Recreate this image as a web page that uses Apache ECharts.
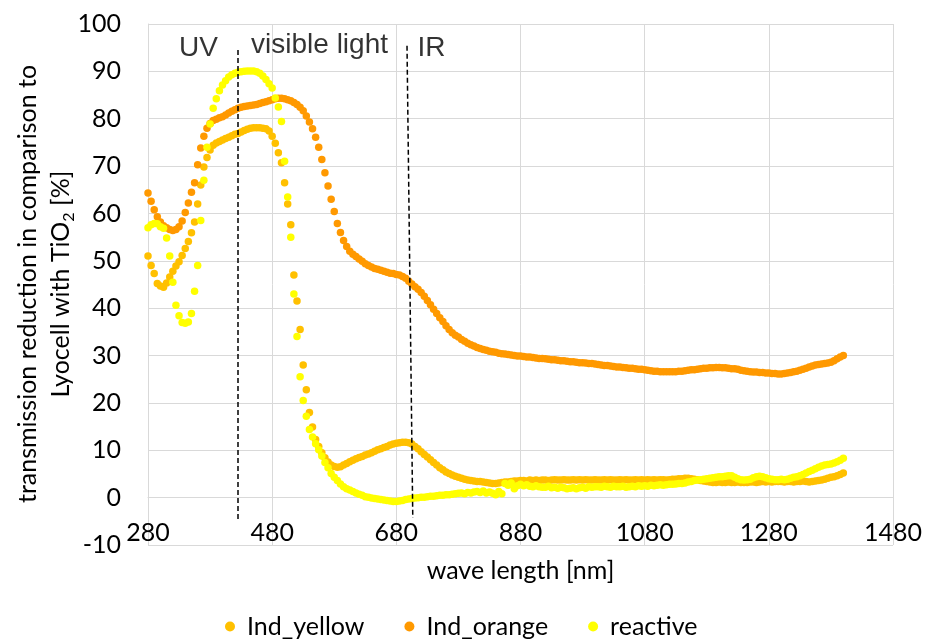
<!DOCTYPE html>
<html>
<head>
<meta charset="utf-8">
<script src="https://cdn.jsdelivr.net/npm/echarts@6/dist/echarts.min.js"></script>
<style>
  html, body { margin: 0; padding: 0; background: #fff; }
  #chart { width: 925px; height: 642px; }
</style>
</head>
<body>
<div id="chart"></div>
<script>
// ── data ──────────────────────────────────────────────
const waveLength = [
  280, 285, 290, 295, 300, 305, 310, 315, 320, 325, 330, 335, 340, 345, 350, 355, 360, 365, 370, 375,
  380, 385, 390, 395, 400, 405, 410, 415, 420, 425, 430, 435, 440, 445, 450, 455, 460, 465, 470, 475,
  480, 485, 490, 495, 500, 505, 510, 515, 520, 525, 530, 535, 540, 545, 550, 555, 560, 565, 570, 575,
  580, 585, 590, 595, 600, 605, 610, 615, 620, 625, 630, 635, 640, 645, 650, 655, 660, 665, 670, 675,
  680, 685, 690, 695, 700, 705, 710, 715, 720, 725, 730, 735, 740, 745, 750, 755, 760, 765, 770, 775,
  780, 785, 790, 795, 800, 805, 810, 815, 820, 825, 830, 835, 840, 845, 850, 855, 860, 865, 870, 875,
  880, 885, 890, 895, 900, 905, 910, 915, 920, 925, 930, 935, 940, 945, 950, 955, 960, 965, 970, 975,
  980, 985, 990, 995, 1000, 1005, 1010, 1015, 1020, 1025, 1030, 1035, 1040, 1045, 1050, 1055, 1060, 1065, 1070, 1075,
  1080, 1085, 1090, 1095, 1100, 1105, 1110, 1115, 1120, 1125, 1130, 1135, 1140, 1145, 1150, 1155, 1160, 1165, 1170, 1175,
  1180, 1185, 1190, 1195, 1200, 1205, 1210, 1215, 1220, 1225, 1230, 1235, 1240, 1245, 1250, 1255, 1260, 1265, 1270, 1275,
  1280, 1285, 1290, 1295, 1300, 1305, 1310, 1315, 1320, 1325, 1330, 1335, 1340, 1345, 1350, 1355, 1360, 1365, 1370, 1375,
  1380, 1385, 1390, 1395, 1400
];

const indYellow = [
  51.0, 49.0, 47.3, 45.2, 44.7, 44.4, 45.3, 46.6, 47.8, 48.9, 49.8, 51.1, 52.6, 54.1, 55.9, 58.2, 62.0, 66.0, 69.8, 71.8,
  73.4, 74.4, 74.9, 75.2, 75.5, 75.8, 76.1, 76.4, 76.7, 76.9, 77.2, 77.5, 77.8, 78.0, 78.1, 78.1, 78.1, 78.0, 77.9, 77.4,
  76.3, 74.8, 72.8, 70.7, 66.5, 62.0, 57.6, 47.0, 41.5, 35.5, 28.0, 22.8, 18.0, 14.9, 12.3, 10.8, 9.5, 8.4, 7.5, 6.9,
  6.6, 6.4, 6.5, 6.9, 7.2, 7.6, 7.9, 8.2, 8.5, 8.7, 9.0, 9.2, 9.5, 9.8, 10.1, 10.3, 10.6, 10.8, 11.1, 11.3,
  11.5, 11.6, 11.7, 11.7, 11.6, 11.3, 10.8, 10.3, 9.7, 9.1, 8.6, 8.0, 7.4, 6.9, 6.3, 5.9, 5.4, 5.1, 4.8, 4.5,
  4.3, 4.1, 3.9, 3.7, 3.6, 3.5, 3.4, 3.4, 3.3, 3.2, 3.1, 3.0, 3.0, 3.1, 3.2, 3.3, 3.3, 3.4, 3.5, 3.5,
  3.6, 3.6, 3.5, 3.7, 3.6, 3.7, 3.6, 3.7, 3.7, 3.6, 3.7, 3.8, 3.7, 3.7, 3.8, 3.7, 3.7, 3.8, 3.7, 3.8,
  3.7, 3.8, 3.7, 3.7, 3.8, 3.7, 3.7, 3.8, 3.7, 3.8, 3.7, 3.7, 3.8, 3.7, 3.8, 3.7, 3.7, 3.8, 3.7, 3.8,
  3.7, 3.8, 3.7, 3.8, 3.7, 3.8, 3.8, 3.7, 3.8, 3.9, 3.9, 4.0, 4.0, 4.1, 4.1, 4.0, 3.9, 3.8, 3.6, 3.5,
  3.4, 3.3, 3.2, 3.2, 3.3, 3.2, 3.2, 3.3, 3.2, 3.2, 3.3, 3.2, 3.2, 3.2, 3.3, 3.3, 3.2, 3.3, 3.4, 3.3,
  3.4, 3.3, 3.4, 3.4, 3.4, 3.3, 3.4, 3.4, 3.3, 3.4, 3.4, 3.5, 3.4, 3.3, 3.4, 3.5, 3.6, 3.7, 3.9, 4.1,
  4.3, 4.4, 4.6, 4.9, 5.2
];

const indOrange = [
  64.3, 62.6, 60.8, 59.3, 58.2, 57.4, 57.0, 56.6, 56.4, 56.6, 57.2, 58.4, 60.2, 62.2, 64.5, 66.5, 70.3, 73.8, 76.3, 78.0,
  79.0, 79.6, 79.9, 80.2, 80.4, 80.8, 81.2, 81.6, 81.9, 82.2, 82.4, 82.6, 82.7, 82.8, 82.9, 83.0, 83.2, 83.4, 83.6, 83.8,
  84.0, 84.2, 84.3, 84.3, 84.2, 84.0, 83.8, 83.4, 83.0, 82.4, 81.7, 80.6, 79.3, 77.9, 76.1, 74.0, 71.4, 68.6, 65.8, 63.0,
  60.4, 57.9, 56.0, 54.3, 53.0, 52.0, 51.4, 50.9, 50.4, 49.9, 49.4, 49.0, 48.7, 48.4, 48.2, 48.0, 47.8, 47.6, 47.4, 47.3,
  47.1, 47.0, 46.7, 46.3, 45.7, 45.1, 44.5, 44.0, 43.3, 42.5, 41.6, 40.7, 39.8, 38.9, 38.0, 37.2, 36.3, 35.5, 34.8, 34.3,
  33.9, 33.4, 33.0, 32.6, 32.3, 32.0, 31.7, 31.5, 31.3, 31.1, 30.9, 30.8, 30.7, 30.5, 30.4, 30.3, 30.2, 30.1, 30.0, 29.9,
  29.9, 29.8, 29.7, 29.7, 29.6, 29.5, 29.4, 29.4, 29.3, 29.2, 29.1, 29.1, 29.0, 28.9, 28.9, 28.8, 28.7, 28.7, 28.6, 28.5,
  28.5, 28.4, 28.3, 28.3, 28.2, 28.1, 28.0, 27.9, 27.9, 27.8, 27.7, 27.6, 27.6, 27.5, 27.4, 27.3, 27.3, 27.2, 27.1, 27.1,
  27.0, 26.9, 26.8, 26.7, 26.7, 26.6, 26.6, 26.6, 26.6, 26.6, 26.6, 26.7, 26.7, 26.8, 26.9, 27.0, 27.0, 27.1, 27.2, 27.3,
  27.3, 27.4, 27.4, 27.5, 27.5, 27.4, 27.4, 27.3, 27.2, 27.2, 27.1, 26.9, 26.8, 26.7, 26.6, 26.5, 26.5, 26.4, 26.4, 26.3,
  26.3, 26.2, 26.2, 26.1, 26.1, 26.2, 26.3, 26.4, 26.6, 26.7, 26.9, 27.1, 27.3, 27.6, 27.8, 28.0, 28.1, 28.2, 28.3, 28.4,
  28.6, 28.9, 29.3, 29.7, 30.0
];

const reactive = [
  57.0, 57.6, 57.9, 57.8, 57.2, 56.9, 54.8, 51.0, 45.5, 40.6, 38.4, 37.0, 36.8, 37.1, 38.9, 43.6, 49.0, 58.5, 67.0, 74.0,
  78.9, 82.2, 84.2, 85.9, 87.1, 88.0, 88.8, 89.3, 89.6, 89.8, 89.9, 90.0, 90.1, 90.1, 90.1, 89.9, 89.6, 89.0, 88.3, 87.4,
  86.5, 84.4, 82.5, 79.4, 71.0, 63.5, 55.0, 43.0, 34.0, 25.5, 20.5, 17.2, 14.4, 12.8, 11.4, 10.1, 8.8, 7.4, 6.3, 5.1,
  4.3, 3.6, 2.9, 2.3, 1.9, 1.6, 1.3, 1.0, 0.7, 0.5, 0.2, 0.1, -0.1, -0.2, -0.3, -0.4, -0.5, -0.6, -0.7, -0.8,
  -0.8, -0.7, -0.6, -0.4, -0.3, -0.2, -0.1, 0.0, 0.1, 0.1, 0.2, 0.3, 0.3, 0.4, 0.5, 0.5, 0.6, 0.6, 0.7, 0.8,
  0.9, 1.0, 0.8, 1.1, 1.0, 1.2, 1.3, 1.1, 1.4, 1.0, 1.2, 0.9, 0.6, 1.3, 0.8, 3.0, 2.6, 3.1, 1.9, 2.5,
  2.8, 2.5, 2.7, 2.4, 2.3, 2.5, 2.3, 2.2, 2.2, 2.4, 2.1, 2.2, 2.0, 2.2, 2.1, 1.9, 2.0, 2.1, 1.9, 2.1,
  2.2, 2.0, 2.3, 2.2, 2.3, 2.3, 2.2, 2.4, 2.3, 2.2, 2.4, 2.3, 2.3, 2.4, 2.2, 2.3, 2.4, 2.3, 2.5, 2.4,
  2.5, 2.4, 2.6, 2.5, 2.6, 2.7, 2.6, 2.7, 2.8, 2.8, 2.9, 3.0, 3.0, 3.1, 3.3, 3.4, 3.6, 3.7, 3.8, 3.9,
  4.0, 4.1, 4.2, 4.3, 4.4, 4.4, 4.5, 4.6, 4.6, 4.3, 4.0, 3.8, 3.7, 3.8, 3.9, 4.2, 4.4, 4.5, 4.4, 4.2,
  4.0, 3.9, 3.8, 3.8, 3.9, 3.8, 3.9, 4.1, 4.3, 4.4, 4.6, 4.9, 5.2, 5.5, 5.8, 6.1, 6.4, 6.7, 6.9, 7.0,
  7.1, 7.3, 7.6, 7.9, 8.3
];

const seriesNames = ['Ind_yellow', 'Ind_orange', 'reactive'];

// region labels and their boundaries (data coordinates)
const bandNames  = ['UV', 'visible light', 'IR'];
const bandLabelX = [330, 446, 714];
const bandLabelY = [94.9, 95.6, 94.8];
const boundaryTop    = [[424.8, 94.5], [697.2, 95.4]];
const boundaryBottom = [[424.8, -4.7], [706.5, -4.3]];

// ── chart ─────────────────────────────────────────────
const chart = echarts.init(document.getElementById('chart'));

const labelFont = 'Lato, "Noto Sans", sans-serif';
const gridColor = '#d9d9d9';

const toPoints = (vals) => waveLength.map((w, i) => [w, vals[i]]);

function dotSeries(name, vals, color) {
  return {
    name: name,
    type: 'scatter',
    data: toPoints(vals),
    symbol: 'circle',
    symbolSize: 7.5,
    itemStyle: { color: color, opacity: 1 },
    silent: true,
  };
}

const option = {
  animation: false,
  backgroundColor: '#fff',
  grid: { left: 148, right: 31, top: 24, bottom: 97 },
  xAxis: {
    type: 'value',
    min: 280,
    max: 1480,
    interval: 200,
    name: 'wave length [nm]',
    nameLocation: 'middle',
    nameGap: 13,
    nameTextStyle: { fontFamily: labelFont, fontSize: 25, color: '#000' },
    axisLine: { show: true, lineStyle: { color: gridColor, width: 1 } },
    axisTick: { show: false },
    axisLabel: {
      inside: true,
      margin: 0,
      fontFamily: labelFont,
      fontSize: 25,
      color: '#000',
      formatter: (v) => String(v),
    },
    splitLine: { show: true, lineStyle: { color: gridColor, width: 1 } },
  },
  yAxis: {
    type: 'value',
    min: -10,
    max: 100,
    interval: 10,
    axisLine: { show: true, lineStyle: { color: gridColor, width: 1 } },
    axisTick: { show: false },
    axisLabel: { margin: 27, fontFamily: labelFont, fontSize: 25, color: '#000' },
    splitLine: { show: true, lineStyle: { color: gridColor, width: 1 } },
  },
  legend: {
    data: seriesNames,
    left: 225,
    top: 614,
    padding: 0,
    icon: 'circle',
    itemWidth: 10,
    itemHeight: 10,
    itemGap: 40,
    textStyle: { fontFamily: labelFont, fontSize: 25, color: '#000', padding: [0, 0, 0, 7] },
    selectedMode: false,
  },
  graphic: [{
    type: 'text',
    x: 44,
    y: 284,
    rotation: Math.PI / 2,
    style: {
      text: 'transmission reduction in comparison to\nLyocell with TiO{sub|2} [%]',
      fontFamily: labelFont,
      fontSize: 25,
      lineHeight: 33,
      fill: '#000',
      align: 'center',
      verticalAlign: 'middle',
      rich: {
        sub: { fontFamily: labelFont, fontSize: 16, lineHeight: 33, verticalAlign: 'bottom', fill: '#000' },
      },
    },
  }],
  series: [
    dotSeries(seriesNames[0], indYellow, '#FFC000'),
    dotSeries(seriesNames[1], indOrange, '#FF9900'),
    Object.assign(dotSeries(seriesNames[2], reactive, '#FFFF00'), {
      markLine: {
        silent: true,
        symbol: 'none',
        label: { show: false },
        lineStyle: { color: '#000', type: [5, 3], width: 1.5 },
        data: boundaryTop.map((t, i) => [{ coord: t }, { coord: boundaryBottom[i] }]),
      },
    }),
    {
      name: 'bands',
      type: 'scatter',
      symbolSize: 0,
      silent: true,
      data: bandNames.map((n, i) => ({ name: n, value: [bandLabelX[i], bandLabelY[i]] })),
      label: {
        show: true,
        position: 'right',
        distance: 0,
        formatter: (p) => p.name,
        fontFamily: '"Liberation Sans", Arial, sans-serif',
        fontSize: 28,
        color: '#000',
      },
    },
  ],
};

chart.setOption(option);
</script>
</body>
</html>
